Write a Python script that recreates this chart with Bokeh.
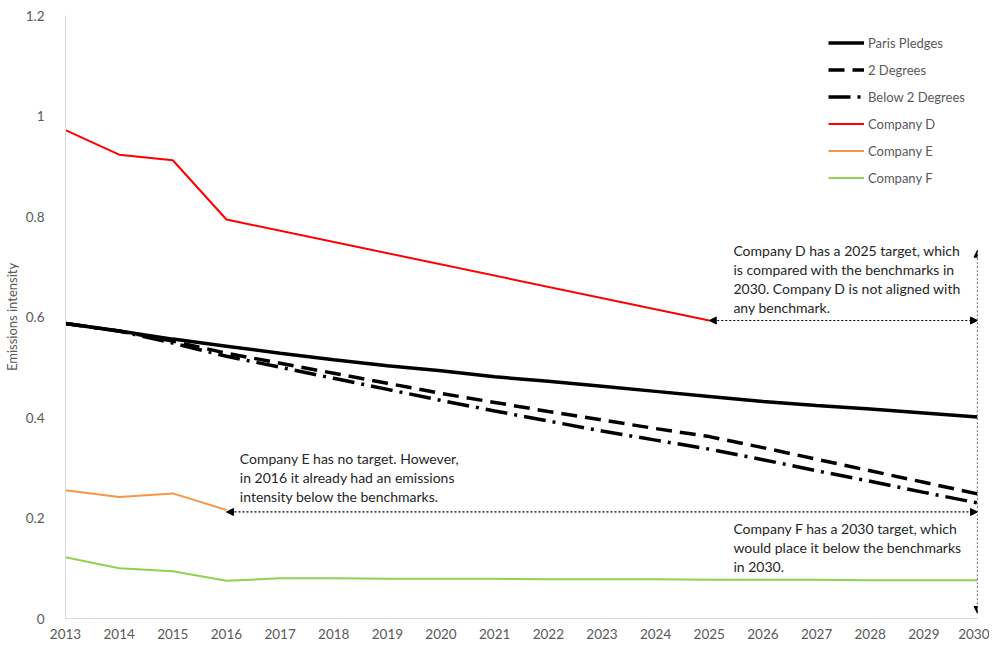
from bokeh.plotting import figure
from bokeh.models import (Range1d, FixedTicker, Legend, LegendItem, Arrow, NormalHead)
from bokeh.core.properties import value
from bokeh.embed import file_html
from bokeh.resources import INLINE

years = list(range(2013, 2031))
paris = [0.587, 0.572, 0.556, 0.542, 0.528, 0.515, 0.503, 0.493, 0.481, 0.472,
         0.462, 0.452, 0.442, 0.432, 0.424, 0.417, 0.409, 0.401]
two_deg = [0.587, 0.572, 0.552, 0.528, 0.508, 0.488, 0.468, 0.448, 0.430, 0.412,
           0.395, 0.378, 0.362, 0.340, 0.317, 0.294, 0.271, 0.248]
below_two = [0.587, 0.572, 0.548, 0.522, 0.500, 0.478, 0.456, 0.434, 0.413, 0.393,
             0.373, 0.355, 0.337, 0.316, 0.294, 0.273, 0.251, 0.230]
d_years = [2013, 2014, 2015, 2016, 2025]
company_d = [0.972, 0.923, 0.912, 0.794, 0.593]
e_years = [2013, 2014, 2015, 2016]
company_e = [0.255, 0.242, 0.249, 0.216]
company_f = [0.122, 0.100, 0.094, 0.075, 0.080, 0.080, 0.079, 0.079, 0.079, 0.078,
             0.078, 0.078, 0.077, 0.077, 0.077, 0.076, 0.076, 0.076]
y_ticks = [0, 0.2, 0.4, 0.6, 0.8, 1, 1.2]
y_labels = ["0", "0.2", "0.4", "0.6", "0.8", "1", "1.2"]

FONT = "Lato"
GREY = "#595959"
TXT = "#262626"

p = figure(width=989, height=641, output_backend="svg", toolbar_location=None,
           x_range=Range1d(2013, 2030), y_range=Range1d(0, 1.2),
           min_border_left=62, min_border_right=12, min_border_top=15, min_border_bottom=23)
p.outline_line_color = None
p.xgrid.visible = False
p.ygrid.visible = False

for ax in (p.xaxis[0], p.yaxis[0]):
    ax.axis_line_color = "#d9d9d9"
    ax.major_tick_line_color = None
    ax.minor_tick_line_color = None
    ax.major_label_text_font = FONT
    ax.major_label_text_font_size = "13.5px"
    ax.major_label_text_color = GREY
p.xaxis[0].ticker = FixedTicker(ticks=years)
p.xaxis[0].major_label_standoff = 4
p.yaxis[0].ticker = FixedTicker(ticks=y_ticks)
p.yaxis[0].major_label_overrides = {t: l for t, l in zip(y_ticks, y_labels)}
p.yaxis[0].major_label_standoff = 15
p.yaxis[0].axis_label = "Emissions intensity"
p.yaxis[0].axis_label_text_font = FONT
p.yaxis[0].axis_label_text_font_size = "13px"
p.yaxis[0].axis_label_text_font_style = "normal"
p.yaxis[0].axis_label_text_color = GREY
p.yaxis[0].axis_label_standoff = 3

r_paris = p.line(years, paris, line_color="black", line_width=3.5)
r_two = p.line(years, two_deg, line_color="black", line_width=3.5, line_dash="16 8")
r_below = p.line(years, below_two, line_color="black", line_width=3.5, line_dash="22 7 3 7")
r_d = p.line(d_years, company_d, line_color="#ff0000", line_width=2)
r_e = p.line(e_years, company_e, line_color="#f79646", line_width=2)
r_f = p.line(years, company_f, line_color="#92d050", line_width=2)

legend = Legend(items=[
    LegendItem(label="Paris Pledges", renderers=[r_paris]),
    LegendItem(label="2 Degrees", renderers=[r_two]),
    LegendItem(label="Below 2 Degrees", renderers=[r_below]),
    LegendItem(label="Company D", renderers=[r_d]),
    LegendItem(label="Company E", renderers=[r_e]),
    LegendItem(label="Company F", renderers=[r_f]),
], location=(763, 431), padding=0, margin=0, spacing=8, glyph_width=36,
    glyph_height=19, label_height=19, label_standoff=4,
    label_text_font=FONT, label_text_font_size="13px", label_text_color=GREY,
    border_line_color=None, background_fill_alpha=0)
p.add_layout(legend)

def head():
    return NormalHead(size=7, fill_color="black", line_color="black")

arrow_kw = dict(line_color="black", line_width=1.2, line_dash="2 2")
p.add_layout(Arrow(x_start=2025, y_start=0.593, x_end=2030, y_end=0.593,
                   start=head(), end=head(), **arrow_kw))
p.add_layout(Arrow(x_start=2016, y_start=0.212, x_end=2030, y_end=0.212,
                   start=head(), end=head(), **arrow_kw))
p.add_layout(Arrow(x_start=2030, y_start=0.733, x_end=2030, y_end=0.01,
                   start=head(), end=head(), **arrow_kw))

notes = [
    (2025.45, 0.733, ["Company D has a 2025 target, which",
                      "is compared with the benchmarks in",
                      "2030. Company D is not aligned with",
                      "any benchmark."]),
    (2016.25, 0.318, ["Company E has no target. However,",
                      "in 2016 it already had an emissions",
                      "intensity below the benchmarks."]),
    (2025.45, 0.179, ["Company F has a 2030 target, which",
                      "would place it below the benchmarks",
                      "in 2030."]),
]
for x0, y0, lines in notes:
    p.text(x=[x0] * len(lines), y=[y0 - 0.038 * i for i in range(len(lines))],
           text=lines, text_font=value(FONT), text_font_size="14px",
           text_color=TXT, text_baseline="middle", text_align="left")

open("out.html", "w").write(file_html(p, INLINE))
